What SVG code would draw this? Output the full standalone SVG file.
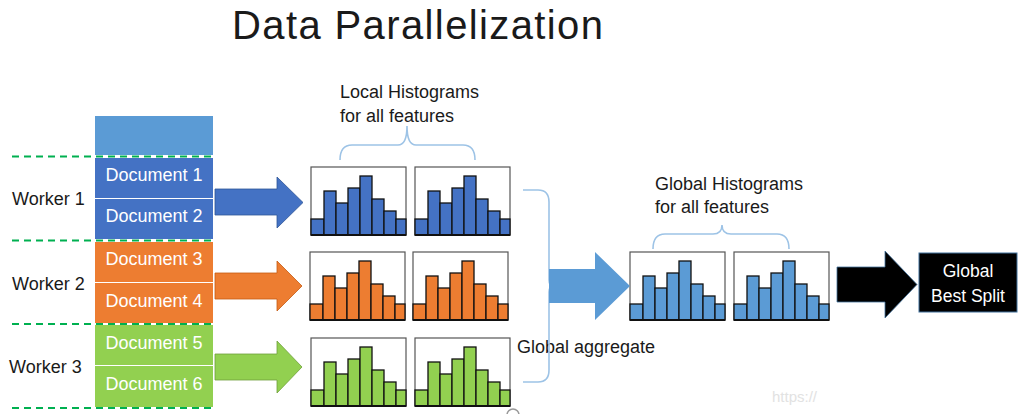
<svg xmlns="http://www.w3.org/2000/svg" xmlns:xlink="http://www.w3.org/1999/xlink" width="1024" height="414" viewBox="0 0 1024 414">
<style>
  text { font-family: "Liberation Sans", Arial, sans-serif; }
  .lbl { font-size: 18px; fill: #1a1a1a; }
  .doc { font-size: 18px; fill: #ffffff; text-anchor: middle; }
  .dash { stroke: #00B050; stroke-width: 2; stroke-dasharray: 7 5; fill: none; }
  .brace { stroke: #9DC3E6; stroke-width: 1.6; fill: none; }
  .hbox { fill: #ffffff; stroke: #555555; stroke-width: 1.2; }
  .bars rect { stroke: #111111; stroke-width: 1.3; }
  .base { stroke: #111111; stroke-width: 2; }
</style>
<defs>
  <g id="hist">
    <rect class="hbox" x="0" y="0" width="95" height="68"/>
    <g class="bars">
      <rect x="0" y="52" width="13" height="16"/>
      <rect x="13" y="24" width="12" height="44"/>
      <rect x="25" y="36" width="12" height="32"/>
      <rect x="37" y="21" width="12" height="47"/>
      <rect x="49" y="9" width="12" height="59"/>
      <rect x="61" y="32" width="12" height="36"/>
      <rect x="73" y="44" width="12" height="24"/>
      <rect x="85" y="52" width="10" height="16"/>
    </g>
    <line class="base" x1="0" y1="68" x2="95" y2="68"/>
  </g>
</defs>
<rect width="1024" height="414" fill="#ffffff"/>

<g id="title">
  <text x="232" y="39" font-size="40" fill="#1a1a1a" textLength="371" lengthAdjust="spacing">Data Parallelization</text>
</g>

<g id="data-stack">
  <rect x="95" y="116" width="118" height="39" fill="#5B9BD5"/>
</g>
<g id="doc1"><rect x="95" y="158" width="118" height="40" fill="#4472C4"/><text class="doc" x="154" y="181">Document 1</text></g>
<g id="doc2"><rect x="95" y="199" width="118" height="40" fill="#4472C4"/><text class="doc" x="154" y="222">Document 2</text></g>
<g id="doc3"><rect x="95" y="242" width="118" height="40" fill="#ED7D31"/><text class="doc" x="154" y="265">Document 3</text></g>
<g id="doc4"><rect x="95" y="283" width="118" height="40" fill="#ED7D31"/><text class="doc" x="154" y="307">Document 4</text></g>
<g id="doc5"><rect x="95" y="325" width="118" height="40" fill="#92D050"/><text class="doc" x="154" y="349">Document 5</text></g>
<g id="doc6"><rect x="95" y="366" width="118" height="41" fill="#92D050"/><text class="doc" x="154" y="390">Document 6</text></g>

<g id="worker-separators">
  <line class="dash" x1="12" y1="156.5" x2="213" y2="156.5"/>
  <line class="dash" x1="12" y1="240.5" x2="213" y2="240.5"/>
  <line class="dash" x1="12" y1="324" x2="213" y2="324"/>
  <line class="dash" x1="12" y1="408" x2="213" y2="408"/>
</g>
<g id="worker1"><text class="lbl" x="12" y="205">Worker 1</text></g>
<g id="worker2"><text class="lbl" x="12" y="290">Worker 2</text></g>
<g id="worker3"><text class="lbl" x="9" y="373">Worker 3</text></g>

<g id="local-label">
  <text class="lbl" x="340" y="98">Local Histograms</text>
  <text class="lbl" x="340" y="122">for all features</text>
</g>

<g id="local-hist-blue">
  <use xlink:href="#hist" href="#hist" x="311" y="167" fill="#4472C4"/>
  <use xlink:href="#hist" href="#hist" x="415" y="167" fill="#4472C4"/>
</g>
<g id="local-hist-orange">
  <use xlink:href="#hist" href="#hist" x="310" y="252" fill="#ED7D31"/>
  <use xlink:href="#hist" href="#hist" x="413" y="252" fill="#ED7D31"/>
</g>
<g id="local-hist-green">
  <use xlink:href="#hist" href="#hist" x="311" y="338" fill="#92D050"/>
  <use xlink:href="#hist" href="#hist" x="415" y="338" fill="#92D050"/>
</g>

<g id="aggregate-label">
  <text class="lbl" x="517" y="353">Global aggregate</text>
</g>

<g id="global-label">
  <text class="lbl" x="655" y="190">Global Histograms</text>
  <text class="lbl" x="655" y="213">for all features</text>
</g>

<g id="global-hist">
  <use xlink:href="#hist" href="#hist" x="630" y="252" fill="#5B9BD5"/>
  <use xlink:href="#hist" href="#hist" x="734" y="252" fill="#5B9BD5"/>
</g>

<g id="best-split">
  <rect x="919" y="253" width="98" height="59" fill="#000000" stroke="#41719C" stroke-width="1"/>
  <text x="968" y="277" font-size="17.5" fill="#ffffff" text-anchor="middle">Global</text>
  <text x="968" y="302" font-size="17.5" fill="#ffffff" text-anchor="middle">Best Split</text>
</g>

<g id="connectors">
  <path class="brace" d="M340,160 Q340,145 352,145 H398 Q407,145 407,126 Q407,145 416,145 H463 Q475,145 475,160"/>
  <path class="brace" d="M653,249 Q653,234 665,234 H713 Q722,234 722,225 Q722,234 731,234 H777 Q789,234 789,249"/>
  <path class="brace" d="M523,190 H538 Q549,190 549,202 V280 Q549,286 554,286 Q549,286 549,292 V370 Q549,382 538,382 H523"/>
  <path d="M215,189 H277 V177 L303,202.5 L277,228 V215 H215 Z" fill="#4472C4" stroke="#2F5597" stroke-width="0.8"/>
  <path d="M215,273 H277 V261 L302,286 L277,311 V299 H215 Z" fill="#ED7D31" stroke="#C55A11" stroke-width="0.8"/>
  <path d="M215,354 H277 V341 L302,367 L277,393 V380 H215 Z" fill="#92D050" stroke="#6F9F3A" stroke-width="0.8"/>
  <path d="M549,269 H595 V252 L630,286 L595,320 V303 H549 Z" fill="#5B9BD5"/>
  <path d="M837,267 H885 V251 L917,284.5 L885,318 V302 H837 Z" fill="#000000" stroke="#41719C" stroke-width="0.8"/>
</g>

<g id="watermark">
  <text x="772" y="402" font-size="15" fill="#e2e2e2">https://</text>
  <circle cx="513" cy="415" r="6" fill="none" stroke="#999999" stroke-width="1.5"/>
</g>
</svg>
